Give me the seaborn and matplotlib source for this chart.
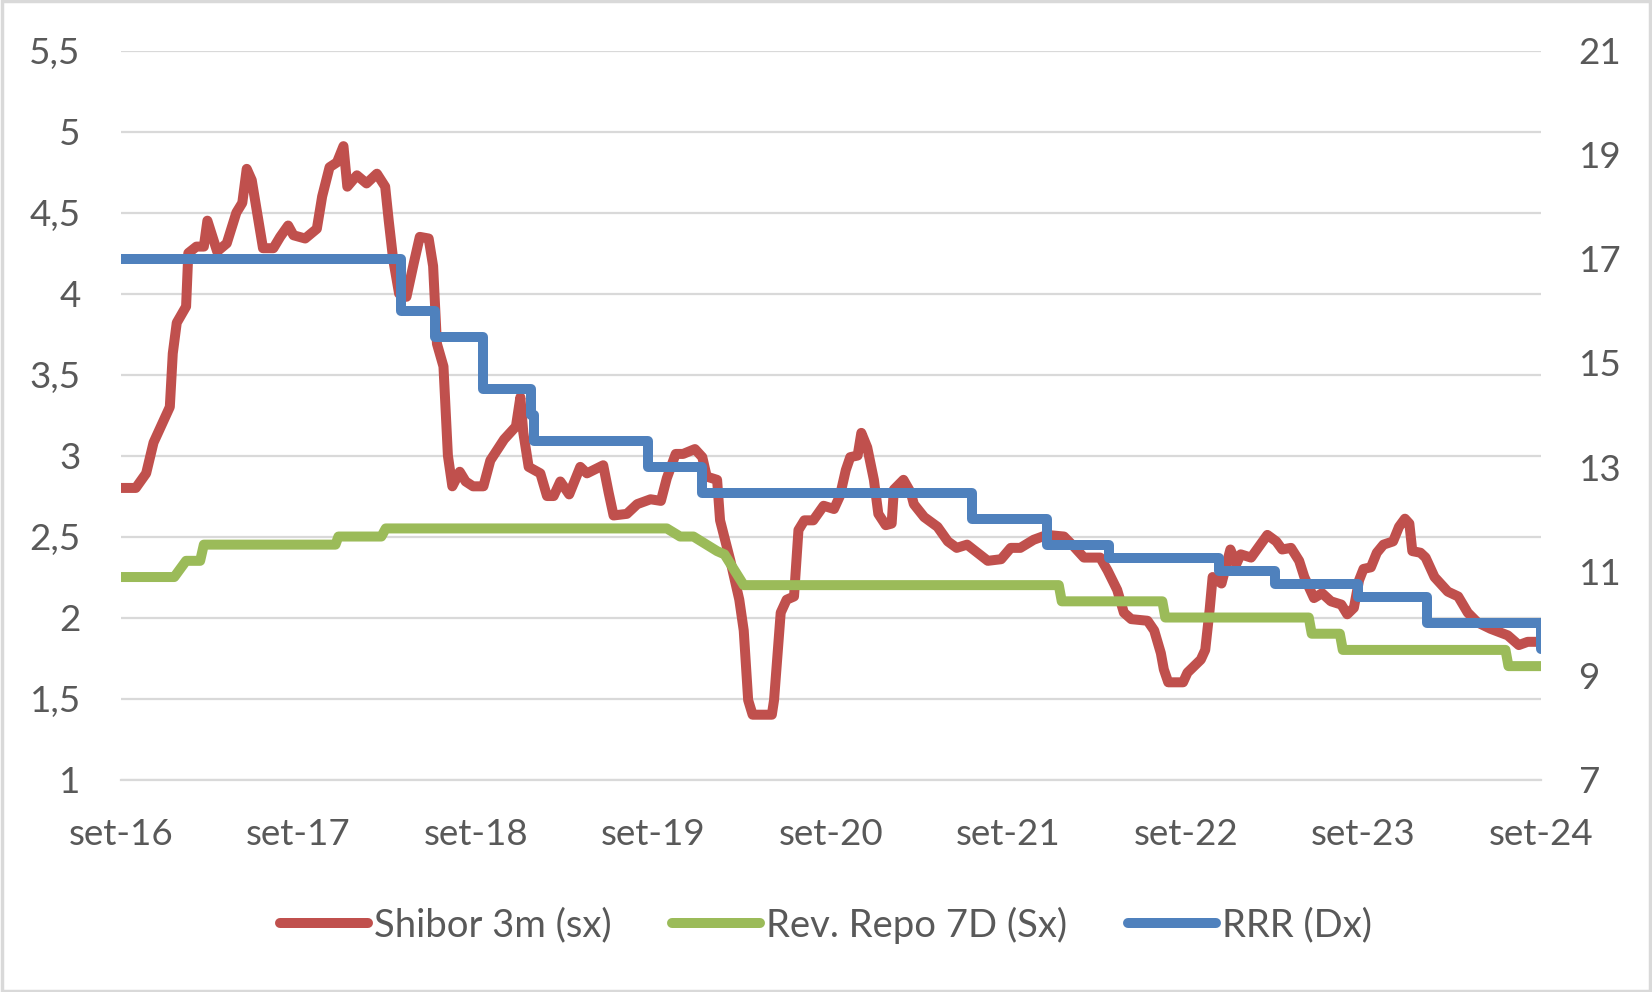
import numpy as np
import pandas as pd
import matplotlib
matplotlib.use("Agg")
import matplotlib.pyplot as plt
import matplotlib.patches as mpatches
from matplotlib.lines import Line2D
import seaborn as sns

# ---------------- data (x = months since Sep 2016) ----------------
x_tick_labels = ["set-16", "set-17", "set-18", "set-19", "set-20",
                 "set-21", "set-22", "set-23", "set-24"]

shibor_t = [0, 1.0, 1.7, 2.2, 3.1, 3.3, 3.5, 3.77, 4.4, 4.55, 5.1, 5.6, 5.84, 6.5,
            7.15, 7.8, 8.2, 8.5, 8.84, 9.2, 9.6, 10.3, 10.76, 11.3, 11.66, 12.45,
            13.24, 13.6, 14.1, 14.6, 15.04, 15.3, 15.95, 16.6, 17.3, 17.86, 18.1,
            18.4, 18.8, 19.3, 19.8, 20.2, 20.8, 21.1, 21.36, 21.8, 22.1, 22.4, 22.9,
            23.3, 23.8, 24.5, 24.97, 25.9, 26.7, 27.0, 27.2, 27.56, 28.35, 28.8,
            29.25, 29.7, 30.3, 31.05, 31.5, 32.6, 32.97, 33.3, 34.2, 34.9, 35.8,
            36.5, 36.9, 37.5, 38.0, 38.8, 39.3, 39.6, 40.3, 40.5, 41.2, 41.8, 42.1,
            42.4, 42.7, 44.0, 44.15, 44.6, 45.0, 45.5, 45.8, 46.2, 46.8, 47.5, 48.2,
            48.6, 49.0, 49.3, 49.8, 50.05, 50.45, 50.9, 51.2, 51.7, 52.1, 52.25,
            52.9, 53.4, 53.6, 54.3, 55.2, 55.9, 56.5, 57.2, 57.9, 58.6, 59.5, 60.15,
            60.8, 61.7, 62.6, 63.75, 64.4, 65.1, 66.2, 66.7, 67.35, 67.8, 68.3,
            69.4, 69.85, 70.3, 70.5, 70.8, 71.8, 72.1, 73.0, 73.3, 73.6, 73.8, 74.4,
            75.0, 75.4, 75.7, 76.4, 76.95, 77.5, 78.1, 78.5, 79.1, 79.65, 80.0,
            80.65, 81.2, 81.8, 82.5, 82.9, 83.35, 83.7, 84.0, 84.5, 84.9, 85.35,
            86.0, 86.4, 86.8, 87.1, 87.3, 87.85, 88.2, 88.8, 89.7, 90.4, 91.05,
            91.7, 92.6, 93.75, 94.5, 95.1, 96.0]
shibor_v = [2.80, 2.80, 2.89, 3.08, 3.26, 3.30, 3.63, 3.82, 3.92, 4.25, 4.29, 4.29, 4.45, 4.26,
            4.31, 4.50, 4.56, 4.77, 4.70, 4.50, 4.28, 4.28, 4.35, 4.42, 4.36, 4.34,
            4.40, 4.60, 4.78, 4.81, 4.91, 4.66, 4.73, 4.68, 4.74, 4.66, 4.45,
            4.21, 4.00, 3.98, 4.19, 4.35, 4.34, 4.17, 3.69, 3.55, 3.00, 2.81, 2.90,
            2.84, 2.81, 2.81, 2.97, 3.10, 3.18, 3.36, 3.14, 2.93, 2.89, 2.75,
            2.75, 2.84, 2.76, 2.93, 2.89, 2.94, 2.77, 2.63, 2.64, 2.70, 2.73,
            2.72, 2.86, 3.01, 3.01, 3.04, 2.99, 2.87, 2.85, 2.60, 2.35, 2.11, 1.92,
            1.49, 1.40, 1.40, 1.49, 2.03, 2.11, 2.13, 2.54, 2.60, 2.60, 2.69, 2.67,
            2.75, 2.91, 2.99, 3.00, 3.14, 3.05, 2.85, 2.64, 2.57, 2.58, 2.79,
            2.85, 2.77, 2.70, 2.62, 2.56, 2.47, 2.43, 2.45, 2.40, 2.35, 2.36, 2.43,
            2.43, 2.48, 2.51, 2.50, 2.44, 2.37, 2.37, 2.29, 2.17, 2.03, 1.99,
            1.98, 1.92, 1.78, 1.68, 1.60, 1.60, 1.66, 1.74, 1.80, 2.05, 2.25, 2.21,
            2.42, 2.33, 2.39, 2.37, 2.44, 2.51, 2.47, 2.42, 2.43, 2.35, 2.25,
            2.12, 2.15, 2.10, 2.08, 2.02, 2.06, 2.23, 2.30, 2.31, 2.40, 2.45,
            2.47, 2.56, 2.61, 2.58, 2.41, 2.40, 2.37, 2.25, 2.16, 2.13, 2.03,
            1.97, 1.93, 1.89, 1.83, 1.85, 1.85]

repo_t = [0, 3.6, 4.4, 5.35, 5.6, 14.5, 14.7, 17.6, 17.9, 36.9, 37.8, 38.7, 40.3,
          40.8, 42.1, 63.4, 63.6, 70.4, 70.6, 80.3, 80.5, 82.4, 82.6, 93.6, 93.8, 96.0]
repo_v = [2.25, 2.25, 2.35, 2.35, 2.45, 2.45, 2.50, 2.50, 2.55, 2.55, 2.50, 2.50, 2.41,
          2.39, 2.20, 2.20, 2.10, 2.10, 2.00, 2.00, 1.90, 1.90, 1.80, 1.80, 1.70, 1.70]

rrr_t = [0, 18.9, 21.2, 24.5, 27.7, 27.9, 35.6, 39.3, 57.55, 62.6, 66.8, 74.2,
         78.0, 83.6, 88.3, 96.0]
rrr_v = [17.0, 16.0, 15.5, 14.5, 14.0, 13.5, 13.0, 12.5, 12.0, 11.5, 11.25, 11.0,
         10.75, 10.5, 10.0, 9.5]

labels = ["Shibor 3m (sx)", "Rev. Repo 7D (Sx)", "RRR (Dx)"]
colors = ["#C0504D", "#9BBB59", "#4F81BD"]

# ---------------- style ----------------
sns.set_style("white")
plt.rcParams["font.family"] = ["Lato", "DejaVu Sans"]
TXT = "#595959"
GRID = "#D9D9D9"
FS = 26.5
FS_LEG = 27.5
LW = 7.2

fig = plt.figure(figsize=(16.52, 9.92), dpi=100)
ax = fig.add_axes([121 / 1652, 1 - 779.5 / 992, (1541 - 121) / 1652, (779.5 - 50.6) / 992])
ax2 = ax.twinx()

line_kw = dict(solid_capstyle="round", solid_joinstyle="round", legend=False)
sns.lineplot(x=shibor_t, y=shibor_v, ax=ax, color=colors[0], lw=LW, sort=False,
             estimator=None, **line_kw)
sns.lineplot(x=repo_t, y=repo_v, ax=ax, color=colors[1], lw=LW, sort=False,
             estimator=None, **line_kw)
sns.lineplot(x=rrr_t, y=rrr_v, ax=ax2, color=colors[2], lw=LW, sort=False,
             estimator=None, drawstyle="steps-post", **line_kw)

# left axis
ax.set_xlim(0, 96)
ax.set_ylim(1, 5.5)
yt = np.arange(1, 5.51, 0.5)
ax.set_yticks(yt)
ax.set_yticklabels([("%g" % v).replace(".", ",") for v in yt])
ax.set_xticks(np.arange(0, 97, 12))
ax.set_xticklabels(x_tick_labels)
ax.grid(axis="y", color=GRID, lw=1.6)
ax.grid(axis="x", visible=False)
ax.set_axisbelow(True)
for s in ["top", "left", "right"]:
    ax.spines[s].set_visible(False)
ax.spines["bottom"].set_color(GRID)
ax.spines["bottom"].set_linewidth(1.6)
ax.tick_params(axis="y", length=0, pad=29, labelsize=FS, labelcolor=TXT)
ax.tick_params(axis="x", length=9.5, width=1.6, color=GRID, direction="out",
               pad=18, labelsize=FS, labelcolor=TXT)
ax.set_xlabel("")
ax.set_ylabel("")

# right axis
ax2.set_ylim(7, 21)
ax2.set_yticks(np.arange(7, 21.1, 2))
ax2.set_yticklabels([str(v) for v in range(7, 22, 2)])
ax2.grid(False)
for s in ["top", "left", "right", "bottom"]:
    ax2.spines[s].set_visible(False)
ax2.tick_params(axis="y", length=0, pad=27, labelsize=FS, labelcolor=TXT)
ax2.set_ylabel("")
ax2.set_xlim(0, 96)

# legend
handles = [Line2D([0], [0], color=c, lw=LW, solid_capstyle="round") for c in colors]
leg = fig.legend(handles, labels, loc="center", bbox_to_anchor=(0.5, 1 - 925 / 992),
                 ncol=3, frameon=False, handlelength=2.3, handletextpad=0.15,
                 columnspacing=1.6, fontsize=FS_LEG)
for t in leg.get_texts():
    t.set_color(TXT)

# figure border
fig.patches.append(mpatches.Rectangle((0.001, 0.001), 0.998, 0.998, transform=fig.transFigure,
                                      fill=False, edgecolor=GRID, lw=2.5))

fig.savefig("out.png", dpi=100)
